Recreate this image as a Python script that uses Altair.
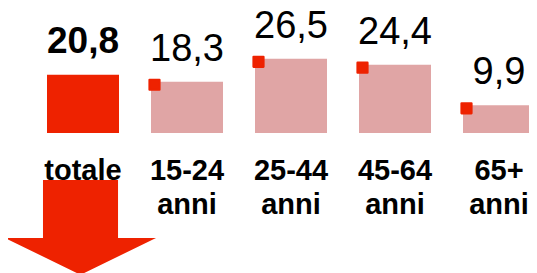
import altair as alt
import pandas as pd

# ---- data ----
cat_ids = ["totale", "15-24", "25-44", "45-64", "65+"]
cat_labels = ["totale", "15-24\nanni", "25-44\nanni", "45-64\nanni", "65+\nanni"]
values = [20.8, 18.3, 26.5, 24.4, 9.9]
value_labels = ["20,8", "18,3", "26,5", "24,4", "9,9"]
is_total = [True, False, False, False, False]

RED = "#EE2200"
PINK = "#E0A5A5"
FONT = "Liberation Sans"

df = pd.DataFrame({
    "cat": cat_ids,
    "pos": list(range(len(cat_ids))),
    "label": cat_labels,
    "value": values,
    "vlabel": value_labels,
    "total": is_total,
})

x_scale = alt.Scale(domain=[0, 4], range=[75, 491], padding=0, zero=False, nice=False)
y_scale = alt.Scale(domain=[0, 44.643], range=[125, 0], padding=0, nice=False)

X = alt.X("pos:Q", scale=x_scale, axis=None)
Y = alt.Y("value:Q", scale=y_scale, axis=None)

base = alt.Chart(df)

bars = base.mark_bar(size=72).encode(
    x=X,
    y=Y,
    color=alt.Color("total:N", scale=alt.Scale(domain=[True, False], range=[RED, PINK]), legend=None),
)

# rounded red square sitting on the top-left corner of each age-group bar
marker_path = "M-6.25,-0.333 L-4.583,-0.333 L-4.583,1.333 L-6.25,1.333 Z"
markers = base.transform_filter("!datum.total").mark_point(
    shape=marker_path, size=144, filled=True, color=RED, stroke=RED,
    strokeWidth=2.2, strokeJoin="round", opacity=1,
).encode(x=X, y=Y)

val_total = base.transform_filter("datum.total").mark_text(
    font=FONT, fontSize=37, fontWeight="bold", baseline="alphabetic", dy=-22, color="black",
).encode(x=X, y=Y, text="vlabel:N")

val_others = base.transform_filter("!datum.total").mark_text(
    font=FONT, fontSize=38, fontWeight="normal", baseline="alphabetic", dy=-21, color="black",
).encode(x=X, y=Y, text="vlabel:N")

cat_text = base.mark_text(
    font=FONT, fontSize=29, fontWeight="bold", baseline="alphabetic", dy=47,
    lineBreak="\n", lineHeight=34, color="black",
).encode(x=X, y=alt.datum(0, scale=y_scale), text="label:N")

arrow_path = ("M-0.530,-0.616 L0.464,-0.616 L0.464,0.152 L0.967,0.152 "
              "L-0.033,0.64 L-1.033,0.152 L-0.530,0.152 Z")
arrow = base.transform_filter("datum.total").mark_point(
    shape=arrow_path, size=22801, filled=True, color=RED, strokeWidth=0, opacity=1,
).encode(x=X, y=alt.value(218.5))

chart = alt.layer(bars, markers, val_total, val_others, cat_text, arrow).properties(
    width=521, height=265,
    autosize=alt.AutoSizeParams(type="none"),
    padding=0,
    background="white",
).configure_view(stroke=None)

chart.save("out.html", embed_options={"renderer": "svg", "actions": False})
